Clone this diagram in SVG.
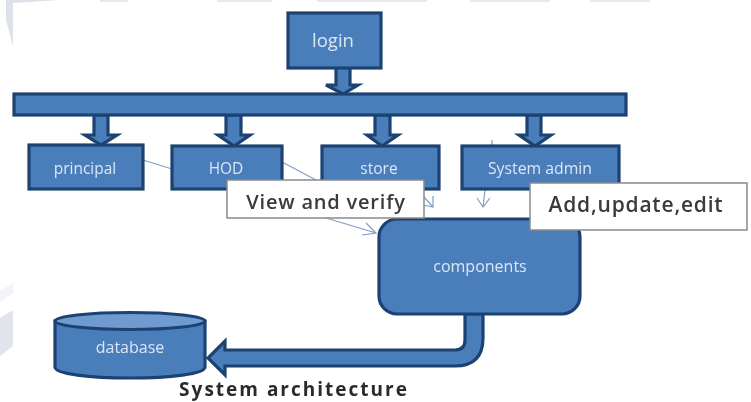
<svg xmlns="http://www.w3.org/2000/svg" width="751" height="402" viewBox="0 0 751 402">
<defs>
<style>
.n{fill:#4a7ebb;stroke:#1c4372;stroke-width:3.2}
.a{fill:#4a7ebb;stroke:#1c4372;stroke-width:3.2;stroke-linejoin:miter}
.l{fill:#dbe6f4;font-family:"Open Sans","Liberation Sans",sans-serif;font-size:15.5px;text-anchor:middle}
.c{fill:#fff;stroke:#8a8a8a;stroke-width:1.5}
.t{fill:#3a3a3a;font-family:"Open Sans","Liberation Sans",sans-serif;font-size:20px;font-weight:600;letter-spacing:.8px;text-anchor:middle}
.thin{fill:none;stroke:#7f9fca;stroke-width:1.2}
</style>
<filter id="b" x="-5%" y="-5%" width="110%" height="110%"><feGaussianBlur stdDeviation="0.7"/></filter>
</defs>
<rect width="751" height="402" fill="#fff"/>
<g filter="url(#b)">
<g id="watermark">
<path fill="#dde1ea" d="M6 0H60L13 3V46L6 20Z"/>
<g fill="#e6e9f0">
<rect x="100" y="0" width="28" height="2"/>
<rect x="217" y="0" width="55" height="2"/>
<rect x="317" y="0" width="110" height="2"/>
<rect x="470" y="0" width="80" height="2"/>
<rect x="590" y="0" width="60" height="2"/>
</g>
<path fill="#f1f3f7" d="M0 291L13 283V293L0 302Z"/>
<path fill="#e0e4ec" d="M0 318L13 310V346L0 356Z"/>
</g>
<g id="connectors">
<path class="a" d="M336 62H350V85H358L343 94L326 85H336Z"/>
<path class="a" d="M94 115H108V135H117L101 145L85 135H94Z"/>
<path class="a" d="M226 115H241V135H250L234 146L218 135H226Z"/>
<path class="a" d="M375 115H390V135H398L382 146L367 135H375Z"/>
<path class="a" d="M527 115H541V135H551L535 146L519 135H527Z"/>
<path class="a" d="M465 314V340Q465 350 455 350H225V341L208 358L225 375V366H455Q483 366 483 338V314Z"/>
<path class="thin" d="M143 160L172 169M282 162L316 180"/>
<path class="thin" d="M326 218L376 233M366 223L376 233L362 235"/>
<path class="thin" d="M424 197L433 207M433 196V207L423 205"/>
<path class="thin" d="M492 140V146M485 190L483 207M477 198L483 207L490 198"/>
</g>
<g id="login"><rect class="n" x="288" y="13" width="93" height="55"/><text class="l" x="333" y="47" style="font-size:18.5px">login</text></g>
<g id="bar"><rect class="n" x="14" y="94" width="612" height="21"/></g>
<g id="principal"><rect class="n" x="29" y="145" width="114" height="44"/><text class="l" x="85" y="174">principal</text></g>
<g id="hod"><rect class="n" x="172" y="146" width="110" height="43"/><text class="l" x="226" y="174">HOD</text></g>
<g id="store"><rect class="n" x="322" y="146" width="117" height="43"/><text class="l" x="379" y="174">store</text></g>
<g id="system-admin"><rect class="n" x="462" y="146" width="157" height="43"/><text class="l" x="540" y="174" style="font-size:15.8px">System admin</text></g>
<g id="components"><rect class="n" x="379" y="219" width="201" height="95" rx="18"/><text class="l" x="480" y="272" style="font-size:16px">components</text></g>
<g id="database">
<path class="n" d="M55 321V367C55 374 90 378 130 378S205 374 205 367V321Z"/>
<ellipse cx="130" cy="321" rx="75" ry="8.5" fill="#6f9bd1" stroke="#1c4372" stroke-width="3"/>
<text class="l" x="130" y="353" style="font-size:16px">database</text>
</g>
<g id="view-verify"><rect class="c" x="227" y="180" width="197" height="38"/><text class="t" x="326" y="209">View and verify</text></g>
<g id="add-update"><rect class="c" x="530" y="183" width="217" height="47"/><text class="t" x="636" y="212" style="font-size:21px">Add,update,edit</text></g>
<text id="caption" x="294" y="396" font-family="'Open Sans','Liberation Sans',sans-serif" font-size="19" font-weight="700" letter-spacing="2" fill="#2a2a2a" text-anchor="middle">System architecture</text>
</g>
</svg>
